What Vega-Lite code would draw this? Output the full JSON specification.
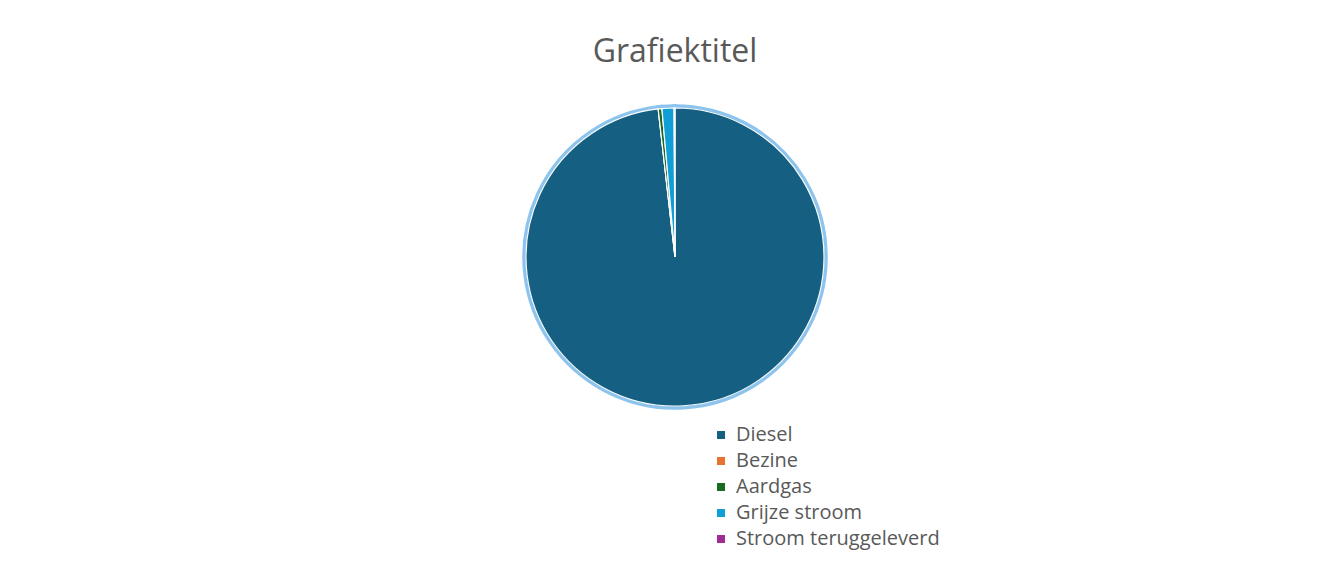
{
  "$schema": "https://vega.github.io/schema/vega-lite/v6.json",
  "autosize": {"type": "none"},
  "padding": {"left": 30, "top": 80, "right": 0, "bottom": 150},
  "width": 1290,
  "height": 354,
  "background": "white",
  "config": {"view": {"stroke": null}, "font": "Open Sans"},
  "title": {
    "text": "Grafiektitel",
    "frame": "group",
    "anchor": "middle",
    "baseline": "alphabetic",
    "offset": 17,
    "dy": 31,
    "fontSize": 32,
    "fontWeight": "normal",
    "color": "#595959",
    "font": "Open Sans"
  },
  "data": {
    "values": [
      {"brandstof": "Diesel", "idx": 1, "waarde": 98.2},
      {"brandstof": "Bezine", "idx": 2, "waarde": 0.0},
      {"brandstof": "Aardgas", "idx": 3, "waarde": 0.4},
      {"brandstof": "Grijze stroom", "idx": 4, "waarde": 1.3},
      {"brandstof": "Stroom teruggeleverd", "idx": 5, "waarde": 0.1}
    ]
  },
  "encoding": {
    "theta": {"field": "waarde", "type": "quantitative", "stack": true},
    "order": {"field": "idx", "type": "quantitative"},
    "color": {
      "field": "brandstof",
      "type": "nominal",
      "sort": ["Diesel", "Bezine", "Aardgas", "Grijze stroom", "Stroom teruggeleverd"],
      "scale": {
        "domain": ["Diesel", "Bezine", "Aardgas", "Grijze stroom", "Stroom teruggeleverd"],
        "range": ["#156082", "#E97132", "#196B24", "#0F9ED5", "#A02B93"]
      },
      "legend": {
        "title": null,
        "orient": "none",
        "legendX": 681,
        "legendY": 345,
        "symbolType": "square",
        "symbolSize": 64,
        "symbolStrokeWidth": 0,
        "labelFontSize": 20,
        "labelLimit": 400,
        "labelColor": "#595959",
        "labelFont": "Open Sans",
        "labelOffset": 5,
        "rowPadding": 6
      }
    }
  },
  "layer": [
    {"mark": {"type": "arc", "outerRadius": 151, "stroke": "#8cc4ee", "strokeWidth": 3.5}},
    {"mark": {"type": "arc", "outerRadius": 149, "stroke": "white", "strokeWidth": 1.2}}
  ]
}
